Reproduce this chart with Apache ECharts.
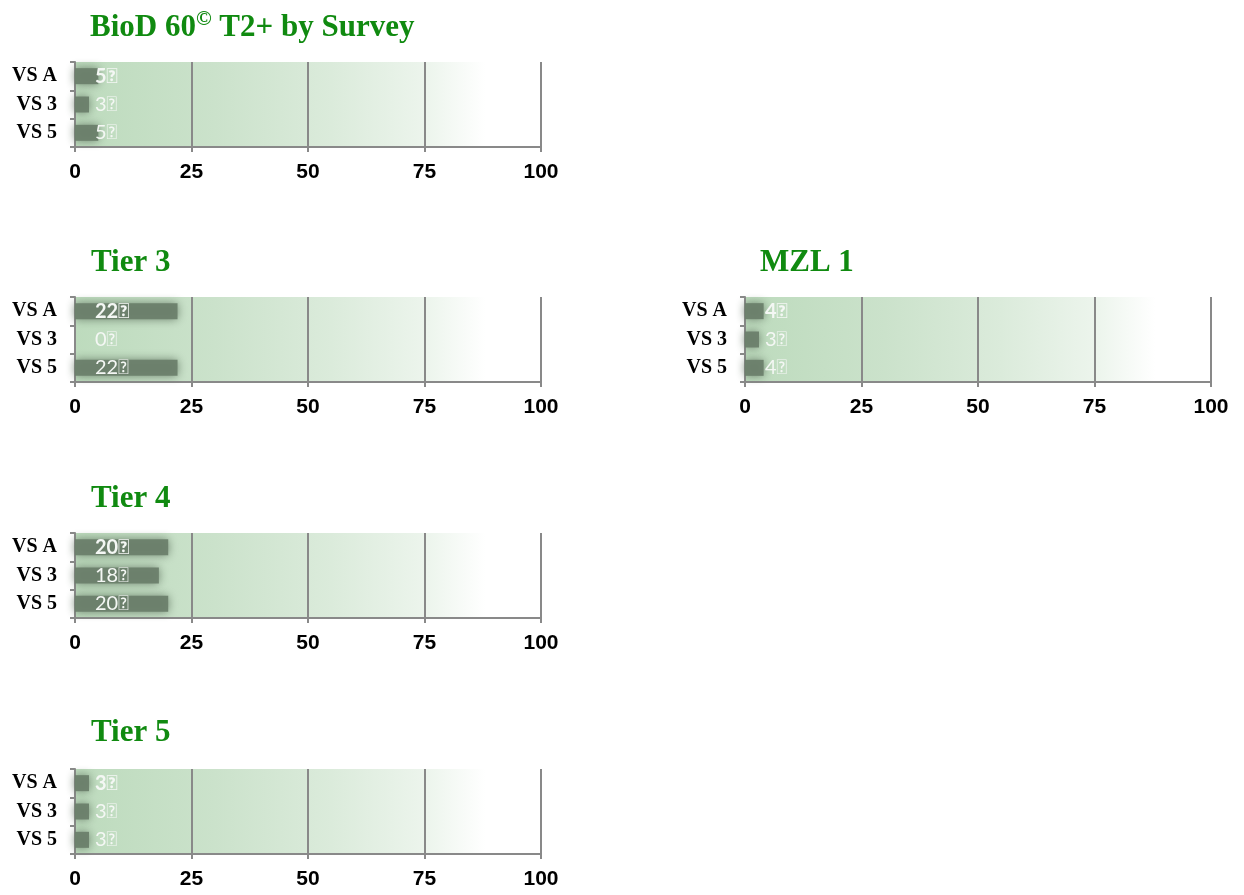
<!DOCTYPE html>
<html>
<head>
<meta charset="utf-8">
<script src="https://cdn.jsdelivr.net/npm/echarts@6/dist/echarts.min.js"></script>
<style>
  html, body { margin: 0; padding: 0; background: #ffffff; }
  #chart { width: 1244px; height: 895px; }
</style>
</head>
<body>
<div id="chart"></div>
<script>
// Survey categories (top to bottom)
const categories = ['VS A', 'VS 3', 'VS 5'];

// Panel titles
const titleBioD = 'BioD 60';
const titleBioDRest = ' T2+ by Survey';
const titleTier3 = 'Tier 3';
const titleMzl1 = 'MZL 1';
const titleTier4 = 'Tier 4';
const titleTier5 = 'Tier 5';

// Values per panel
const bioDValues = [5, 3, 5];
const tier3Values = [22, 0, 22];
const mzl1Values = [4, 3, 4];
const tier4Values = [20, 18, 20];
const tier5Values = [3, 3, 3];

// Value axis ticks
const xTicks = [0, 25, 50, 75, 100];

// Trailing glyph shown after each value label
const labelSuffix = '\uF025';

const panels = [
  { title: [titleBioD, '\u00A9', titleBioDRest], values: bioDValues, left: 75, top: 62, titleX: 90, titleY: 9 },
  { title: [titleTier3], values: tier3Values, left: 75, top: 297, titleX: 91, titleY: 244 },
  { title: [titleMzl1], values: mzl1Values, left: 745, top: 297, titleX: 760, titleY: 244 },
  { title: [titleTier4], values: tier4Values, left: 75, top: 533, titleX: 91, titleY: 480 },
  { title: [titleTier5], values: tier5Values, left: 75, top: 769, titleX: 91, titleY: 714 }
];

const PLOT_W = 466, PLOT_H = 85;
const axisGray = '#898989';
const titleGreen = '#108a10';

const chart = echarts.init(document.getElementById('chart'), null, { renderer: 'canvas' });

const titles = [], grids = [], xAxes = [], yAxes = [], series = [];

panels.forEach((p, i) => {
  const t = p.title.length === 3
    ? '{m|' + p.title[0] + '}{s|' + p.title[1] + '}{m|' + p.title[2] + '}'
    : '{m|' + p.title[0] + '}';
  titles.push({
    text: t,
    left: p.titleX,
    top: p.titleY,
    padding: 0,
    textStyle: {
      rich: {
        m: { fontFamily: 'Liberation Serif', fontWeight: 'bold', fontSize: 31, color: titleGreen, verticalAlign: 'bottom', lineHeight: 34 },
        s: { fontFamily: 'Liberation Serif', fontWeight: 'bold', fontSize: 21, color: titleGreen, verticalAlign: 'top', lineHeight: 34, padding: [0, 0, 12, 0] }
      }
    }
  });

  grids.push({
    left: p.left,
    top: p.top,
    width: PLOT_W,
    height: PLOT_H,
    show: true,
    borderWidth: 0,
    backgroundColor: new echarts.graphic.LinearGradient(0, 0, 1, 0, [
      { offset: 0, color: '#bddbbd' },
      { offset: 0.3, color: '#cbe2cb' },
      { offset: 0.55, color: '#dbebdb' },
      { offset: 0.76, color: '#edf5ed' },
      { offset: 0.88, color: '#ffffff' },
      { offset: 1, color: '#ffffff' }
    ])
  });

  xAxes.push({
    gridIndex: i,
    type: 'value',
    min: xTicks[0],
    max: xTicks[xTicks.length - 1],
    interval: xTicks[1] - xTicks[0],
    axisLine: { show: true, lineStyle: { color: axisGray, width: 2 } },
    axisTick: { show: true, length: 5, lineStyle: { color: axisGray, width: 2 } },
    splitLine: { show: true, lineStyle: { color: axisGray, width: 2 } },
    axisLabel: {
      margin: 15,
      fontFamily: 'Liberation Sans',
      fontWeight: 'bold',
      fontSize: 21,
      color: '#000'
    }
  });

  yAxes.push({
    gridIndex: i,
    type: 'category',
    data: categories,
    inverse: true,
    axisLine: { show: true, lineStyle: { color: axisGray, width: 2 } },
    axisTick: { show: true, length: 5, lineStyle: { color: axisGray, width: 2 } },
    axisLabel: {
      margin: 18,
      fontFamily: 'Liberation Serif',
      fontWeight: 'bold',
      fontSize: 20,
      color: '#000'
    }
  });

  series.push({
    type: 'bar',
    xAxisIndex: i,
    yAxisIndex: i,
    barWidth: 16,
    data: p.values.map((v, k) => ({
      value: v,
      label: k === 0 ? { fontWeight: 'bold' } : {}
    })),
    itemStyle: {
      color: 'rgba(108,128,108,0.95)',
      shadowBlur: 10,
      shadowColor: 'rgba(100,120,100,0.95)'
    },
    label: {
      show: true,
      position: [20, '50%'],
      align: 'left',
      verticalAlign: 'middle',
      fontFamily: 'Lato',
      fontSize: 20,
      color: '#f4f7f4',
      formatter: (d) => d.value + labelSuffix
    },
    silent: true,
    animation: false
  });
});

chart.setOption({
  animation: false,
  title: titles,
  grid: grids,
  xAxis: xAxes,
  yAxis: yAxes,
  series: series
});
</script>
</body>
</html>
